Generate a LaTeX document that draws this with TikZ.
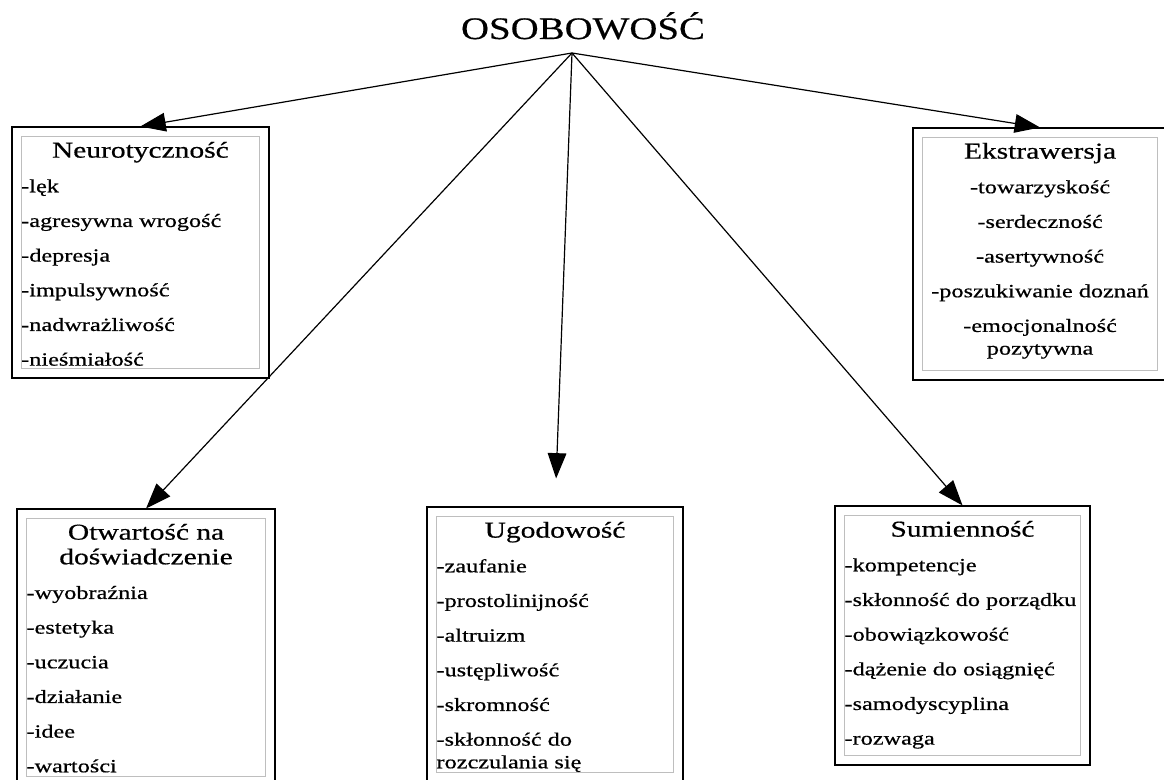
\documentclass[tikz,border=0pt]{standalone}
\usepackage{fontspec}
\setmainfont{Liberation Serif}[FakeStretch=1.3, FakeBold=0.6]
\newfontfamily\titlefont{Liberation Serif}[FakeStretch=1.24, FakeBold=0.4]
\usepackage{xcolor}
\usepackage{tikz}
\usetikzlibrary{calc}
\usetikzlibrary{fit}
\usetikzlibrary{arrows.meta}
\definecolor{frame-gray}{RGB}{190, 190, 190}

\newcommand{\hd}[1]{\makebox[\linewidth]{\fontsize{17}{17}\selectfont #1}}
\newcommand{\panel}[4]{\parbox[c][#2][t]{#1}{#3\fontsize{14}{17}\selectfont\vspace*{4pt}#4}}

\tikzset{
  innerframe/.style={draw=frame-gray, line width=0.8pt, inner sep=0pt, anchor=north west},
  outerframe/.style={draw, line width=1.3pt, inner sep=6.5pt},
  arr/.style={line width=0.9pt, -{Triangle[length=19pt, width=14pt]}}
}

\begin{document}
\begin{tikzpicture}[x=0.75pt, y=-0.75pt]
  \useasboundingbox (0, 0) rectangle (1164, 780);

  \node[anchor=base] (title) at (583, 39) {\titlefont\fontsize{23.5}{24}\selectfont OSOBOWOŚĆ};
  \coordinate (src) at (572, 53);

  % cechy
  \node[innerframe] (neuro) at (20.7, 136) {\panel{178.7pt}{174pt}{\raggedright}{%
    \hd{Neurotyczność}\\[9pt]
    -lęk\\[9pt]
    -agresywna wrogość\\[9pt]
    -depresja\\[9pt]
    -impulsywność\\[9pt]
    -nadwrażliwość\\[9pt]
    -nieśmiałość}};
  \node[outerframe, fit=(neuro)] (neuroOut) {};

  \node[innerframe] (ekstra) at (922, 137) {\panel{176.3pt}{174.8pt}{\centering}{%
    \hd{Ekstrawersja}\\[9pt]
    -towarzyskość\\[9pt]
    -serdeczność\\[9pt]
    -asertywność\\[9pt]
    -poszukiwanie doznań\\[9pt]
    -emocjonalność\\
    pozytywna}};
  \node[outerframe, fit=(ekstra)] (ekstraOut) {};

  \node[innerframe] (otwart) at (26, 518) {\panel{179.3pt}{193.5pt}{\raggedright}{%
    \hd{Otwartość na}\\[1.5pt]
    \hd{doświadczenie}\\[9pt]
    -wyobraźnia\\[9pt]
    -estetyka\\[9pt]
    -uczucia\\[9pt]
    -działanie\\[9pt]
    -idee\\[9pt]
    -wartości}};
  \node[outerframe, fit=(otwart)] (otwartOut) {};

  \node[innerframe] (ugod) at (436, 516) {\panel{177.8pt}{192pt}{\raggedright}{%
    \hd{Ugodowość}\\[9pt]
    -zaufanie\\[9pt]
    -prostolinijność\\[9pt]
    -altruizm\\[9pt]
    -ustępliwość\\[9pt]
    -skromność\\[9pt]
    -skłonność do\\
    rozczulania się}};
  \node[outerframe, fit=(ugod)] (ugodOut) {};

  \node[innerframe] (sumien) at (844, 515) {\panel{177pt}{180pt}{\raggedright}{%
    \hd{Sumienność}\\[9pt]
    -kompetencje\\[9pt]
    -skłonność do porządku\\[9pt]
    -obowiązkowość\\[9pt]
    -dążenie do osiągnięć\\[9pt]
    -samodyscyplina\\[9pt]
    -rozwaga}};
  \node[outerframe, fit=(sumien)] (sumienOut) {};

  % strzalki
  \draw[arr] (src) -- (neuroOut.north);
  \draw[arr] (src) -- (ekstraOut.north);
  \draw[arr] (src) -- (otwartOut.north);
  \draw[arr, shorten >=21pt] (src) -- (ugodOut.north);
  \draw[arr] (src) -- (sumienOut.north);
\end{tikzpicture}
\end{document}
